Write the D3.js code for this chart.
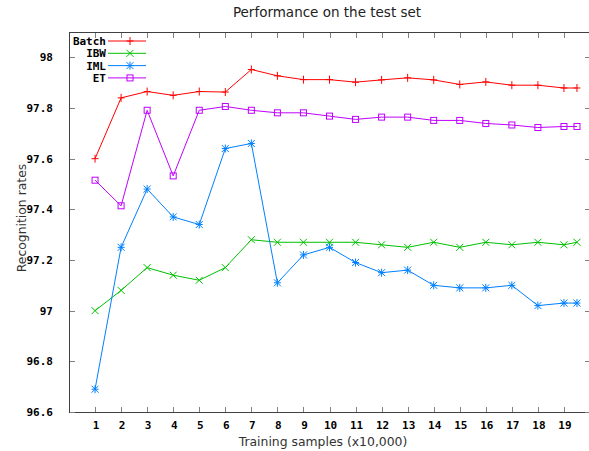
<!DOCTYPE html>
<html>
<head>
<meta charset="utf-8">
<script src="https://cdn.jsdelivr.net/npm/d3@7/dist/d3.min.js"></script>
<style>
  body { margin: 0; background: #fff; }
  svg { display: block; }
</style>
</head>
<body>
<div id="chart"></div>
<script>
const samples = [1, 2, 3, 4, 5, 6, 7, 8, 9, 10, 11, 12, 13, 14, 15, 16, 17, 18, 19, 19.5]
const batch = [97.60, 97.84, 97.865, 97.85, 97.865, 97.863, 97.952, 97.927, 97.912, 97.912, 97.902, 97.911, 97.919, 97.911, 97.893, 97.903, 97.89, 97.89, 97.879, 97.879]
const ibw = [97.00, 97.08, 97.17, 97.14, 97.12, 97.17, 97.28, 97.27, 97.27, 97.27, 97.27, 97.26, 97.25, 97.27, 97.25, 97.27, 97.26, 97.27, 97.26, 97.27]
const iml = [96.69, 97.25, 97.48, 97.37, 97.34, 97.64, 97.66, 97.11, 97.22, 97.25, 97.19, 97.15, 97.16, 97.10, 97.09, 97.09, 97.10, 97.02, 97.03, 97.03]
const et = [97.515, 97.414, 97.791, 97.532, 97.791, 97.806, 97.791, 97.781, 97.781, 97.768, 97.755, 97.764, 97.764, 97.751, 97.751, 97.739, 97.733, 97.723, 97.727, 97.727]
const seriesNames = ['Batch', 'IBW', 'IML', 'ET']
const xTicks = [1, 2, 3, 4, 5, 6, 7, 8, 9, 10, 11, 12, 13, 14, 15, 16, 17, 18, 19]
const yTicks = [96.6, 96.8, 97, 97.2, 97.4, 97.6, 97.8, 98]

const colors = ['#ff0000', '#00c000', '#0080ff', '#c000ff']
const markers = ['plus', 'cross', 'star', 'square']
const series = [batch, ibw, iml, et].map((vals, i) => ({
  name: seriesNames[i],
  color: colors[i],
  marker: markers[i],
  points: vals.map((v, j) => ({ x: samples[j], y: v }))
}))

const width = 589
const height = 451
const plot = { left: 69, right: 590, top: 32, bottom: 412 }

const svg = d3.select('#chart').append('svg')
  .attr('width', width)
  .attr('height', height)

const x = d3.scaleLinear().domain([0, 20]).range([plot.left, plot.right])
const y = d3.scaleLinear().domain([96.6, 98.1]).range([plot.bottom, plot.top])

const tickFont = '"DejaVu Sans Mono", monospace'
const textFont = '"DejaVu Sans", sans-serif'

// frame with inward ticks on all four sides
const axisColor = '#404040'
svg.append('rect')
  .attr('x', plot.left + 0.5)
  .attr('y', plot.top + 0.5)
  .attr('width', plot.right - plot.left)
  .attr('height', plot.bottom - plot.top)
  .attr('fill', 'none')
  .attr('stroke', axisColor)

const ticks = svg.append('g').attr('stroke', '#808080')
xTicks.forEach(t => {
  const px = Math.round(x(t)) + 0.5
  ticks.append('line').attr('x1', px).attr('x2', px).attr('y1', plot.bottom).attr('y2', plot.bottom - 5)
  ticks.append('line').attr('x1', px).attr('x2', px).attr('y1', plot.top + 1).attr('y2', plot.top + 6)
})
yTicks.forEach(t => {
  const py = Math.round(y(t)) + 0.5
  ticks.append('line').attr('x1', plot.left + 1).attr('x2', plot.left + 6).attr('y1', py).attr('y2', py)
  ticks.append('line').attr('x1', plot.right).attr('x2', plot.right - 5).attr('y1', py).attr('y2', py)
})

svg.append('g')
  .selectAll('text')
  .data(xTicks)
  .enter().append('text')
  .attr('x', d => x(d) + 1)
  .attr('y', 429)
  .attr('text-anchor', 'middle')
  .attr('font-family', tickFont)
  .attr('font-weight', 'bold')
  .attr('font-size', 11)
  .text(d => d)

svg.append('g')
  .selectAll('text')
  .data(yTicks)
  .enter().append('text')
  .attr('x', 53)
  .attr('y', d => y(d) + 4)
  .attr('text-anchor', 'end')
  .attr('font-family', tickFont)
  .attr('font-weight', 'bold')
  .attr('font-size', 11)
  .text(d => d)

svg.append('text')
  .attr('x', 327)
  .attr('y', 17)
  .attr('text-anchor', 'middle')
  .attr('font-family', textFont)
  .attr('font-size', 13.5)
  .attr('fill', '#222')
  .text('Performance on the test set')

svg.append('text')
  .attr('x', 323)
  .attr('y', 446)
  .attr('text-anchor', 'middle')
  .attr('font-family', textFont)
  .attr('font-size', 12.4)
  .attr('fill', '#333')
  .text('Training samples (x10,000)')

svg.append('text')
  .attr('transform', 'translate(26,218) rotate(-90)')
  .attr('text-anchor', 'middle')
  .attr('font-family', textFont)
  .attr('font-size', 12.4)
  .attr('fill', '#333')
  .text('Recognition rates')

function drawMarker (g, type, cx, cy, color) {
  const s = 3.5
  if (type === 'plus' || type === 'star') {
    g.append('line').attr('x1', cx - s).attr('x2', cx + s).attr('y1', cy).attr('y2', cy).attr('stroke', color)
    g.append('line').attr('x1', cx).attr('x2', cx).attr('y1', cy - s - 0.5).attr('y2', cy + s + 0.5).attr('stroke', color)
  }
  if (type === 'cross' || type === 'star') {
    g.append('line').attr('x1', cx - s).attr('x2', cx + s).attr('y1', cy - s).attr('y2', cy + s).attr('stroke', color)
    g.append('line').attr('x1', cx - s).attr('x2', cx + s).attr('y1', cy + s).attr('y2', cy - s).attr('stroke', color)
  }
  if (type === 'square') {
    g.append('rect').attr('x', cx - 3).attr('y', cy - 3).attr('width', 6).attr('height', 6)
      .attr('fill', 'none').attr('stroke', color)
  }
}

const line = d3.line().x(d => x(d.x)).y(d => y(d.y))

series.forEach(s => {
  const g = svg.append('g')
  g.append('path')
    .datum(s.points)
    .attr('d', line)
    .attr('fill', 'none')
    .attr('stroke', s.color)
    .attr('stroke-width', 1)
  s.points.forEach(p => drawMarker(g, s.marker, x(p.x), y(p.y), s.color))
})

// legend, top left inside the frame
const legend = svg.append('g')
series.forEach((s, i) => {
  const ly = 41 + i * 12.3
  legend.append('text')
    .attr('x', 106)
    .attr('y', ly + 4)
    .attr('text-anchor', 'end')
    .attr('font-family', tickFont)
    .attr('font-weight', 'bold')
    .attr('font-size', 11)
    .text(s.name)
  legend.append('line')
    .attr('x1', 108).attr('x2', 146)
    .attr('y1', ly).attr('y2', ly)
    .attr('stroke', s.color)
  drawMarker(legend, s.marker, 130, ly, s.color)
})
</script>
</body>
</html>
